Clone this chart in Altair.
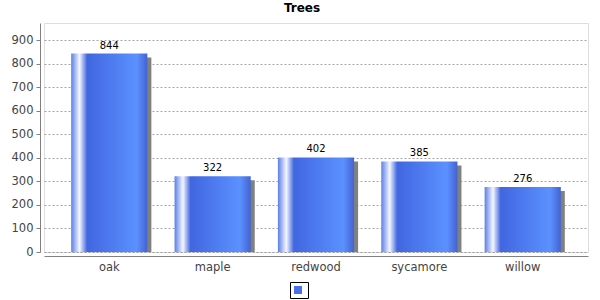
import altair as alt
import pandas as pd

categories = ["oak", "maple", "redwood", "sycamore", "willow"]
values = [844, 322, 402, 385, 276]
series_name = [""] * 5
tick_values = [0, 100, 200, 300, 400, 500, 600, 700, 800, 900]

df = pd.DataFrame({"tree": categories, "count": values, "series": series_name})

FONT = "DejaVu Sans"

x_enc = alt.X("tree:N", sort=categories, title=None,
              scale=alt.Scale(paddingInner=0.263, paddingOuter=0.263),
              axis=alt.Axis(offset=4, domainColor="#808080", ticks=False,
                            labelColor="#444444", labelFontSize=11.5, labelFont=FONT,
                            labelPadding=5, labelAngle=0, grid=False))
y_enc = alt.Y("count:Q", title=None,
              scale=alt.Scale(domain=[0, 974], nice=False, zero=True),
              axis=alt.Axis(values=tick_values, offset=4, domainColor="#808080",
                            tickColor="#808080", tickSize=4, labelColor="#444444",
                            labelFontSize=11.5, labelFont=FONT, labelPadding=3,
                            grid=True, gridColor="#808080", gridDash=[2, 2],
                            gridWidth=0.7))

base = alt.Chart(df)

shadow = base.mark_bar(color="#808080", xOffset=4, x2Offset=4, yOffset=4,
                       y2Offset=4, clip=True).encode(x=x_enc, y=y_enc)

grad = alt.Gradient(
    gradient="linear",
    stops=[
        alt.GradientStop(color="#5a7fe6", offset=0.0),
        alt.GradientStop(color="#f4f7ff", offset=0.11),
        alt.GradientStop(color="#4166e0", offset=0.21),
        alt.GradientStop(color="#5b91ff", offset=0.86),
        alt.GradientStop(color="#4363d2", offset=1.0),
    ],
    x1=0, x2=1, y1=0, y2=0,
)

bars = base.mark_bar(color=grad).encode(x=x_enc, y=y_enc)

labels = base.mark_text(baseline="alphabetic", dy=-5, fontSize=10, font=FONT,
                        color="black").encode(x=x_enc, y=y_enc, text="count:Q")

legend_layer = base.mark_square(opacity=0, size=1).encode(
    x=x_enc, y=y_enc,
    color=alt.Color("series:N", scale=alt.Scale(range=["#4a6ee8"]),
                    legend=alt.Legend(title=None, orient="none", legendX=246,
                                      legendY=259, symbolType="square",
                                      symbolSize=64, symbolOpacity=1,
                                      symbolStrokeWidth=0,
                                      labelExpr="''", labelFontSize=1,
                                      labelOffset=2, padding=4,
                                      strokeColor="black",
                                      direction="horizontal")),
)

chart = alt.layer(shadow, bars, labels, legend_layer).properties(
    width=544, height=229,
    title=alt.TitleParams("Trees", font=FONT, fontSize=12, fontWeight="bold",
                          color="black", dx=-14, offset=8),
    autosize=alt.AutoSizeParams(type="none"),
    padding={"left": 44, "top": 23, "right": 12, "bottom": 48},
).configure_view(stroke="#707070", strokeWidth=1).configure(background="white")

chart.save("out.html", embed_options={"renderer": "svg", "actions": False})
